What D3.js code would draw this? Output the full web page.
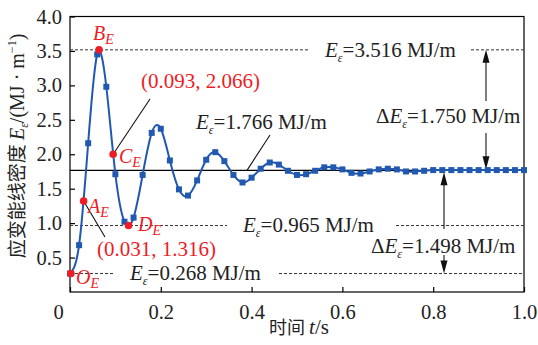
<!DOCTYPE html>
<html>
<head>
<meta charset="utf-8">
<script src="https://cdn.jsdelivr.net/npm/d3@7"></script>
<style>
  body { margin: 0; background: #fff; }
  svg { display: block; }
  svg text { font-family: "Liberation Serif", "DejaVu Serif", "Times New Roman", Times, serif; }
  svg text tspan.cjk { font-family: "Noto Sans CJK SC", sans-serif; }
</style>
</head>
<body>
<svg id="chart" width="538" height="345"></svg>
<script>
// time (s) of each sampled point
const times = [0, 0.02, 0.04, 0.06, 0.08, 0.10, 0.12, 0.14, 0.16, 0.18,
  0.20, 0.22, 0.24, 0.26, 0.28, 0.30, 0.32, 0.34, 0.36, 0.38,
  0.40, 0.42, 0.44, 0.46, 0.48, 0.50, 0.52, 0.54, 0.56, 0.58,
  0.60, 0.62, 0.64, 0.66, 0.68, 0.70, 0.72, 0.74, 0.76, 0.78,
  0.80, 0.82, 0.84, 0.86, 0.88, 0.90, 0.92, 0.94, 0.96, 0.98, 1.00];
// strain energy line density (MJ/m)
const energy = [0.268, 0.68, 2.16, 3.45, 2.98, 1.71, 1.02, 1.08, 1.70, 2.31,
  2.37, 1.91, 1.49, 1.40, 1.62, 1.92, 2.03, 1.90, 1.70, 1.59,
  1.66, 1.79, 1.88, 1.85, 1.76, 1.70, 1.71, 1.76, 1.81, 1.81,
  1.78, 1.73, 1.72, 1.75, 1.78, 1.79, 1.78, 1.75, 1.75, 1.76,
  1.77, 1.77, 1.77, 1.77, 1.77, 1.77, 1.77, 1.77, 1.77, 1.77, 1.77];

// marked points O_E, A_E, B_E, C_E, D_E
const keyNames = ["O", "A", "B", "C", "D"];
const keyT = [0.002, 0.030, 0.064, 0.095, 0.129];
const keyE = [0.268, 1.32, 3.516, 2.0, 0.965];

// reference levels
const levelMax = 3.516, levelMean = 1.766, levelMin = 0.965, levelStart = 0.268;

const xTicks = [0, 0.2, 0.4, 0.6, 0.8, 1.0];
const yTicks = [0.5, 1.0, 1.5, 2.0, 2.5, 3.0, 3.5, 4.0];

const serif = "'Liberation Serif', 'DejaVu Serif', serif";
const blue = "#2158b0", red = "#ee1c25";
const svg = d3.select("#chart").attr("font-family", serif);

const x = d3.scaleLinear().domain([0, 1]).range([70, 524]);
const y = d3.scaleLinear().domain([0, 4]).range([292, 16.5]);

// frame
svg.append("rect")
  .attr("x", x(0)).attr("y", y(4))
  .attr("width", x(1) - x(0)).attr("height", y(0) - y(4))
  .attr("fill", "none").attr("stroke", "#000").attr("stroke-width", 1.2);

// axes with inside ticks
const xAxis = svg.append("g").attr("transform", `translate(0,${y(0)})`)
  .call(d3.axisBottom(x).tickValues(xTicks).tickSizeInner(-5).tickSizeOuter(0)
    .tickPadding(12).tickFormat(d => d === 0 ? "0" : d3.format(".1f")(d)));
const yAxis = svg.append("g").attr("transform", `translate(${x(0)},0)`)
  .call(d3.axisLeft(y).tickValues(yTicks).tickSizeInner(-5).tickSizeOuter(0)
    .tickPadding(8).tickFormat(d3.format(".1f")));
[xAxis, yAxis].forEach(a => {
  a.attr("font-family", serif).attr("font-size", 20.5);
  a.select(".domain").remove();
  a.selectAll("line").attr("stroke", "#000").attr("stroke-width", 1.2);
  a.selectAll("text").attr("fill", "#222");
});
xAxis.selectAll("text").filter(d => d === 0).attr("dx", -12);

// axis titles
const xt = svg.append("text").attr("x", 299).attr("y", 334)
  .attr("text-anchor", "middle").attr("font-size", 21).attr("fill", "#222");
xt.append("tspan").attr("class", "cjk").attr("font-size", 18).text("时间 ");
xt.append("tspan").attr("font-style", "italic").text("t");
xt.append("tspan").text("/s");

const yt = svg.append("text").attr("transform", "translate(24,146) rotate(-90)")
  .attr("text-anchor", "middle").attr("font-size", 20).attr("fill", "#222");
yt.append("tspan").attr("class", "cjk").attr("font-size", 19).text("应变能线密度 ");
yt.append("tspan").attr("font-style", "italic").text("E");
yt.append("tspan").attr("font-style", "italic").attr("font-size", 12).attr("dy", 4).text("ε");
yt.append("tspan").attr("dy", -4).text("/(MJ · m");
yt.append("tspan").attr("font-size", 12).attr("dy", -8).text("−1");
yt.append("tspan").attr("dy", 8).text(")");

// dashed reference lines (split around their labels)
function dashed(x1, x2, v) {
  svg.append("line").attr("x1", x1).attr("x2", x2).attr("y1", y(v)).attr("y2", y(v))
    .attr("stroke", "#333").attr("stroke-width", 1).attr("stroke-dasharray", "3,2");
}
dashed(x(0), 308, levelMax); dashed(471, x(1), levelMax);
dashed(x(0), 227, levelMin); dashed(396, x(1), levelMin);
dashed(x(0), 113, levelStart); dashed(279, x(1), levelStart);

// mean line
svg.append("line").attr("x1", x(0)).attr("x2", x(1))
  .attr("y1", y(levelMean)).attr("y2", y(levelMean))
  .attr("stroke", "#000").attr("stroke-width", 1.3);

// energy label helper: [Δ]Eε=value MJ/m
function eLabel(xp, yp, val, delta) {
  const t = svg.append("text").attr("x", xp).attr("y", yp)
    .attr("font-size", 21).attr("fill", "#222");
  if (delta) t.append("tspan").text("Δ");
  t.append("tspan").attr("font-style", "italic").text("E");
  t.append("tspan").attr("font-style", "italic").attr("font-size", 12).attr("dy", 5).text("ε");
  t.append("tspan").attr("dy", -5).text("=" + d3.format(".3f")(val) + " MJ/m");
}
eLabel(325, 57, levelMax);
eLabel(196, 129, levelMean);
eLabel(243, 232, levelMin);
eLabel(130, 280, levelStart);
eLabel(376, 123, levelMax - levelMean, true);
eLabel(371, 253, levelMean - levelStart, true);

// leader lines
function leader(x1, y1, x2, y2) {
  svg.append("line").attr("x1", x1).attr("y1", y1).attr("x2", x2).attr("y2", y2)
    .attr("stroke", "#111").attr("stroke-width", 1.1);
}
leader(270, 135, 247, y(levelMean));
leader(150, 99, x(keyT[3]), y(keyE[3]));
leader(x(keyT[1]), y(keyE[1]), 105, 237);

// arrows
function arrow(xp, yFrom, yTip) {
  const dir = yTip > yFrom ? 1 : -1;
  svg.append("line").attr("x1", xp).attr("x2", xp).attr("y1", yFrom).attr("y2", yTip - dir * 10)
    .attr("stroke", "#111").attr("stroke-width", 1.1);
  svg.append("path")
    .attr("d", `M${xp},${yTip} L${xp - 3.5},${yTip - dir * 13} L${xp + 3.5},${yTip - dir * 13} Z`)
    .attr("fill", "#111");
}
arrow(486, 101, y(levelMax));
arrow(486, 133, y(levelMean) - 1);
arrow(444, 229, y(levelMean) + 2);
arrow(444, 255, y(levelStart));

// smooth spline through the samples
const pts = times.map((t, i) => [t, energy[i]]);
const line = d3.line().x(d => x(d[0])).y(d => y(d[1])).curve(d3.curveNatural);
svg.append("path").datum(pts).attr("d", line)
  .attr("fill", "none").attr("stroke", blue).attr("stroke-width", 2);

svg.append("g").selectAll("rect").data(times).join("rect")
  .attr("x", (d) => x(d) - 3).attr("y", (d, i) => y(energy[i]) - 3)
  .attr("width", 6).attr("height", 6).attr("fill", blue);

// red marked points
svg.append("g").selectAll("circle").data(keyT).join("circle")
  .attr("cx", d => x(d)).attr("cy", (d, i) => y(keyE[i]))
  .attr("r", 3.8).attr("fill", red);

// red labels
const labelPos = { O: [76, 284], A: [88, 213], B: [93, 40], C: [119, 163], D: [138, 231] };
keyNames.forEach(n => {
  const t = svg.append("text").attr("x", labelPos[n][0]).attr("y", labelPos[n][1])
    .attr("font-size", 20).attr("fill", red).attr("font-style", "italic");
  t.append("tspan").text(n);
  t.append("tspan").attr("font-size", 14).attr("dy", 4).text("E");
});
svg.append("text").attr("x", 141).attr("y", 88).attr("font-size", 21).attr("fill", red)
  .text(`(${d3.format(".3f")(0.093)}, ${d3.format(".3f")(2.066)})`);
svg.append("text").attr("x", 97).attr("y", 256).attr("font-size", 21).attr("fill", red)
  .text(`(${d3.format(".3f")(0.031)}, ${d3.format(".3f")(1.316)})`);
</script>
</body>
</html>
